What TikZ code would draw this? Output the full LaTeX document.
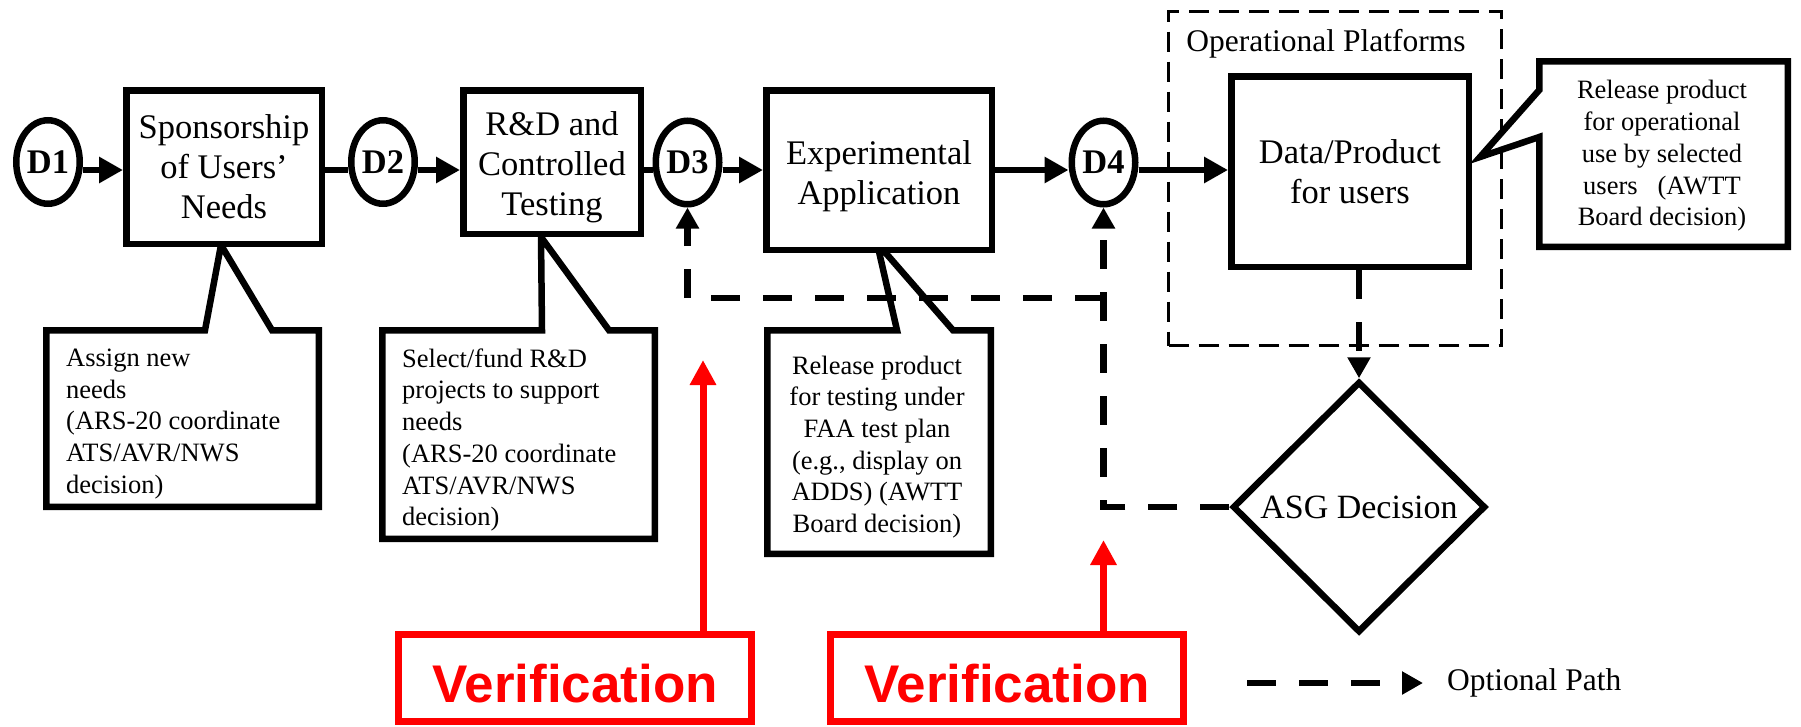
\documentclass[tikz,border=0pt]{standalone}
\usepackage{fontspec}
\setmainfont{Liberation Serif}
\newfontfamily\versans{Liberation Sans}
\usetikzlibrary{arrows.meta,shapes.geometric,calc}

\definecolor{vred}{RGB}{255,0,0}

% font sizes (1 unit = 1pt)
\newcommand\fsMain{\fontsize{34.5}{40}\selectfont}
\newcommand\fsD{\fontsize{34.5}{40}\selectfont\bfseries}
\newcommand\fsNote{\fontsize{26.5}{31.7}\selectfont}
\newcommand\fsPlat{\fontsize{31.5}{38}\selectfont}
\newcommand\fsAsg{\fontsize{34}{40}\selectfont}
\newcommand\fsLegend{\fontsize{31.5}{38}\selectfont}
\newcommand\fsVer{\versans\bfseries\fontsize{53}{60}\selectfont}
% taller first line, to lower a block of text inside its box
\newcommand\lowerby[1]{\rule{0pt}{\dimexpr 23.6pt+#1\relax}}

\begin{document}
\begin{tikzpicture}[x=1pt,y=-1pt,
  lw/.style={line width=6.5pt},
  box/.style={draw, lw, fill=white, inner sep=0pt, align=center, font=\fsMain},
  dnode/.style={draw, lw, ellipse, fill=white, inner sep=0pt,
    minimum width=63.5pt, minimum height=83.5pt, font=\fsD},
  flow/.style={lw, -{Triangle[length=24pt,width=25pt]}},
  link/.style={lw},
  opt/.style={lw, dash pattern=on 29pt off 23pt, -{Triangle[length=21pt,width=22pt]}},
  note/.style={lw, fill=white, line join=miter},
  notetext/.style={font=\fsNote, inner sep=0pt},
  verbox/.style={draw=vred, line width=7pt, minimum width=353pt, minimum height=87pt, inner sep=0pt},
  vertext/.style={text=vred, font=\fsVer, inner sep=0pt},
  verarrow/.style={draw=vred, line width=7pt, -{Triangle[length=25pt,width=25pt]}},
]
\useasboundingbox (0,0) rectangle (1801,726);

% height of the main flow line
\coordinate (row) at (0,170);

% operational platforms frame
\node[draw, line width=3pt, dash pattern=on 20pt off 10pt, inner sep=0pt,
  minimum width=333pt, minimum height=334pt] (plat) at (1335,178.5) {};
\node[font=\fsPlat, inner sep=0pt] (platlabel) at (1326,44) {Operational Platforms};

% callouts
\draw[note] (46.25,330.25) -- (205,330.25) -- (221,245) -- (272,330.25)
  -- (318.75,330.25) -- (318.75,506.75) -- (46.25,506.75) -- cycle;
\node[notetext, anchor=west, align=left] (c1t) at (66,424)
  {Assign new\\needs\\(ARS-20 coordinate\\ATS/AVR/NWS\\decision)};

\draw[note] (382.25,330.25) -- (542,330.25) -- (541,237) -- (609,330.25)
  -- (654.75,330.25) -- (654.75,538.75) -- (382.25,538.75) -- cycle;
\node[notetext, anchor=west, align=left] (c2t) at (402,440)
  {Select/fund R\&D\\projects to support\\needs\\(ARS-20 coordinate\\ATS/AVR/NWS\\decision)};

\draw[note] (767.25,330.25) -- (897,330.25) -- (877,243) -- (953,330.25)
  -- (990.75,330.25) -- (990.75,553.75) -- (767.25,553.75) -- cycle;
\node[notetext, align=center] (c3t) at (877,447)
  {Release product\\for testing under\\FAA test plan\\(e.g., display on\\ADDS) (AWTT\\Board decision)};

\draw[note] (1539.25,61.25) -- (1787.75,61.25) -- (1787.75,246.75) -- (1539.25,246.75)
  -- (1539.25,137) -- (1480,157) -- (1539.25,90) -- cycle;
\node[notetext, align=center] (c4t) at (1662,156)
  {Release product\\for operational\\use by selected\\users\hspace{0.75em}(AWTT\\Board decision)};

% decision diamond
\node[draw, lw, diamond, aspect=1, fill=white, inner sep=0pt,
  minimum width=253pt, minimum height=251pt, font=\fsAsg] (asg) at (1359,507) {ASG Decision};

% main flow
\node[dnode] (d1) at (48,162) {D1};
\node[box, minimum width=195.5pt, minimum height=153.5pt] (spons) at (224,167)
  {Sponsorship\\of Users'\\Needs};
\node[dnode] (d2) at (383,162) {D2};
\node[box, minimum width=177.5pt, minimum height=143.5pt] (rnd) at (552,162)
  {\lowerby{11pt}R\&D and\\Controlled\\Testing};
\node[dnode] (d3) at (687.5,162.5) {D3};
\node[box, minimum width=225.5pt, minimum height=159.5pt] (exper) at (879,170)
  {\lowerby{13pt}Experimental\\Application};
\node[dnode] (d4) at (1103.5,162.5) {D4};
\node[box, minimum width=237.5pt, minimum height=190.5pt] (data) at (1350,171.5)
  {Data/Product\\for users};

\draw[flow] (d1.east |- row) -- (spons.west |- row);
\draw[link] (spons.east |- row) -- (d2.west |- row);
\draw[flow] (d2.east |- row) -- (rnd.west |- row);
\draw[link] (rnd.east |- row) -- (d3.west |- row);
\draw[flow] (d3.east |- row) -- (exper.west |- row);
\draw[flow] (exper.east |- row) -- (d4.west |- row);
\draw[flow] (d4.east |- row) -- (data.west |- row);

% optional paths
\coordinate (branch) at (1103.5,298);
\draw[opt] (data.south -| asg) -- (asg.north);
\draw[opt] (asg.west) -- (asg.west -| d4) -- (d4.south);
\draw[opt] (branch) -- (branch -| d3) -- (d3.south);

% legend
\node[font=\fsLegend, anchor=west, inner sep=0pt] (legend) at (1447,683) {Optional Path};
\draw[opt] ([xshift=-200pt]legend.west) -- ([xshift=-24pt]legend.west);

% verification
\node[verbox] (v1) at (575,678) {};
\node[vertext, anchor=base] (v1t) at ([yshift=-24pt]v1.center) {Verification};
\node[verbox] (v2) at (1007,678) {};
\node[vertext, anchor=base] (v2t) at ([yshift=-24pt]v2.center) {Verification};
\coordinate (t1) at (703,360);
\coordinate (t2) at (1103.5,540);
\draw[verarrow] (v1.north -| t1) -- (t1);
\draw[verarrow] (v2.north -| t2) -- (t2);
\end{tikzpicture}
\end{document}
